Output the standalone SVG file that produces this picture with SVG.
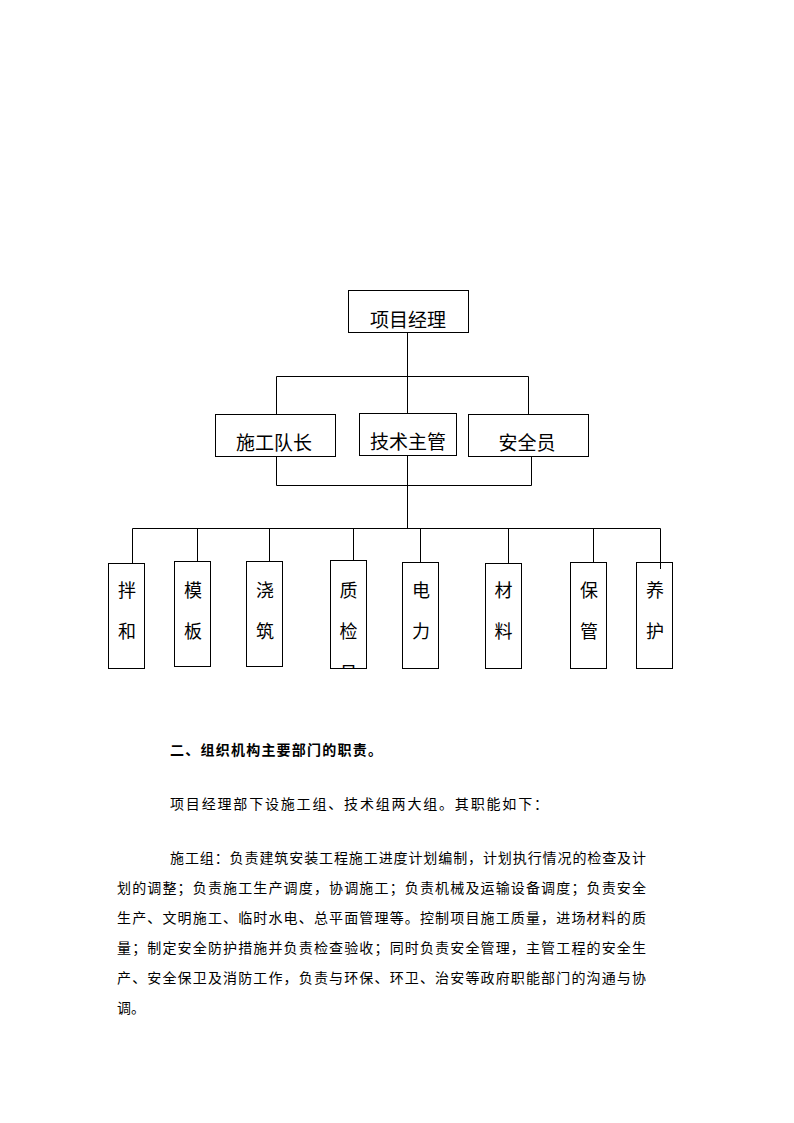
<svg xmlns="http://www.w3.org/2000/svg" width="794" height="1123" viewBox="0 0 794 1123">
<defs>
<style>
.box{fill:#fff;stroke:#000;stroke-width:1}
.ln{stroke:#000;stroke-width:1;fill:none}
.t{font-family:"Noto Sans CJK SC","Noto Sans CJK JP",sans-serif;fill:#000;dominant-baseline:central;text-anchor:middle}
.big{font-size:19px}
.v{font-size:18px}
.p{font-family:"Noto Sans CJK SC","Noto Sans CJK JP",sans-serif;font-size:14px;fill:#000;dominant-baseline:central}
.h{font-weight:bold}
</style>
<clipPath id="clip4"><rect x="331" y="561" width="35" height="107"/></clipPath>
</defs>
<rect width="794" height="1123" fill="#fff"/>
<g id="connectors">
<path class="ln" d="M407.5 332.5V376.5M276.5 376.5H528.5M276.5 376.5V414.5M528.5 376.5V414.5M407.5 376.5V413.5"/>
<path class="ln" d="M276.5 443V485.5H531.5V443M407.5 455.5V528.5"/>
<path class="ln" d="M132.5 528.5H660.5M132.5 528.5V563.5M197.5 528.5V561.5M269.5 528.5V561.5M353.5 528.5V560.5M420.5 528.5V562.5M508.5 528.5V563.5M593.5 528.5V562.5"/>
</g>
<g id="n-xmjl"><rect class="box" x="348.5" y="290.5" width="120" height="42"/><text class="t big" x="408" y="318">项目经理</text></g>
<g id="n-sgdz"><rect class="box" x="215.5" y="414.5" width="120" height="42"/><text class="t big" x="274" y="441">施工队长</text></g>
<g id="n-jszg"><rect class="box" x="359.5" y="413.5" width="97" height="42"/><text class="t big" x="408" y="440">技术主管</text></g>
<g id="n-aqy"><rect class="box" x="468.5" y="414.5" width="120" height="42"/><text class="t big" x="527" y="441">安全员</text></g>
<g id="n-bh"><rect class="box" x="108.5" y="563.5" width="36" height="105"/><text class="t v" x="127" y="589">拌</text><text class="t v" x="127" y="630">和</text></g>
<g id="n-mb"><rect class="box" x="174.5" y="561.5" width="36" height="105"/><text class="t v" x="193" y="589">模</text><text class="t v" x="193" y="630">板</text></g>
<g id="n-jz"><rect class="box" x="246.5" y="561.5" width="36" height="105"/><text class="t v" x="265" y="589">浇</text><text class="t v" x="265" y="630">筑</text></g>
<g id="n-zj"><rect class="box" x="330.5" y="560.5" width="36" height="108"/><text class="t v" x="348.5" y="589">质</text><text class="t v" x="348.5" y="630">检</text><text class="t v" x="348.5" y="672" clip-path="url(#clip4)">员</text></g>
<g id="n-dl"><rect class="box" x="402.5" y="562.5" width="36" height="106"/><text class="t v" x="421" y="589">电</text><text class="t v" x="421" y="630">力</text></g>
<g id="n-cl"><rect class="box" x="485.5" y="563.5" width="36" height="105"/><text class="t v" x="503.5" y="589">材</text><text class="t v" x="503.5" y="630">料</text></g>
<g id="n-bg"><rect class="box" x="570.5" y="562.5" width="36" height="106"/><text class="t v" x="589" y="589">保</text><text class="t v" x="589" y="630">管</text></g>
<g id="n-yh"><rect class="box" x="636.5" y="562.5" width="36" height="106"/><text class="t v" x="655" y="589">养</text><text class="t v" x="655" y="630">护</text></g>
<path class="ln" d="M660.5 528.5V569"/>
<g id="text">
<text class="p h" x="170" y="749" textLength="212" lengthAdjust="spacing">二、组织机构主要部门的职责。</text>
<text class="p" x="170" y="803" textLength="378" lengthAdjust="spacing">项目经理部下设施工组、技术组两大组。其职能如下：</text>
<text class="p" x="170" y="857" textLength="476" lengthAdjust="spacing">施工组：负责建筑安装工程施工进度计划编制，计划执行情况的检查及计</text>
<text class="p" x="117" y="887" textLength="529" lengthAdjust="spacing">划的调整；负责施工生产调度，协调施工；负责机械及运输设备调度；负责安全</text>
<text class="p" x="117" y="917" textLength="529" lengthAdjust="spacing">生产、文明施工、临时水电、总平面管理等。控制项目施工质量，进场材料的质</text>
<text class="p" x="117" y="947" textLength="529" lengthAdjust="spacing">量；制定安全防护措施并负责检查验收；同时负责安全管理，主管工程的安全生</text>
<text class="p" x="117" y="977" textLength="529" lengthAdjust="spacing">产、安全保卫及消防工作，负责与环保、环卫、治安等政府职能部门的沟通与协</text>
<text class="p" x="117" y="1007">调。</text>
</g>
</svg>
